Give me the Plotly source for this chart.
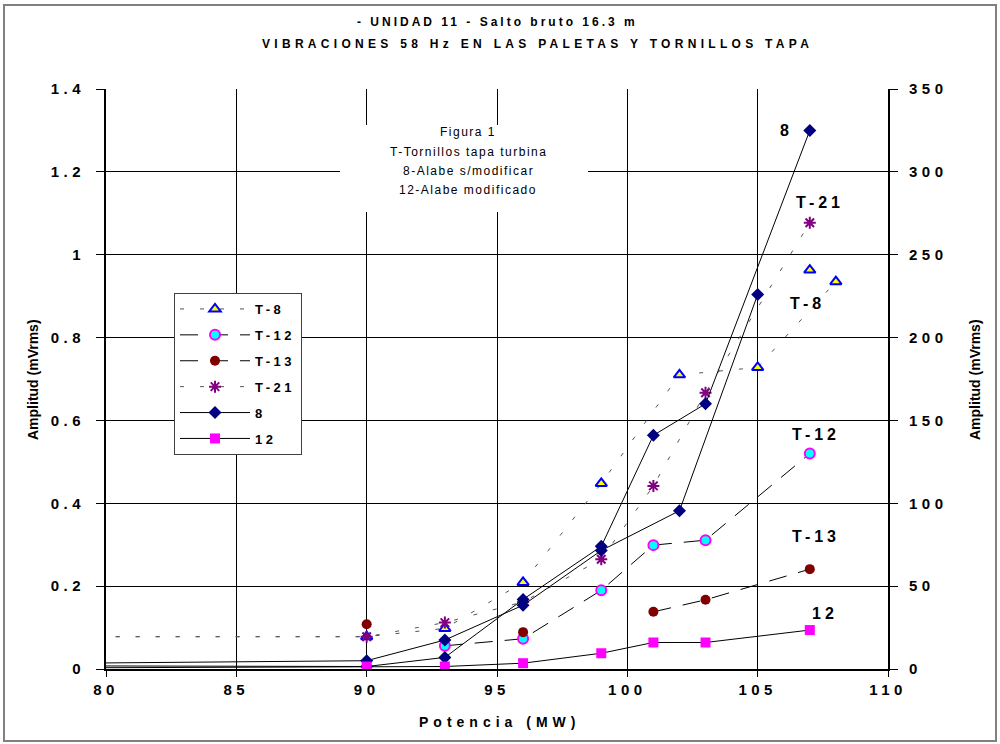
import plotly.graph_objects as go

# ---------------- data ----------------
x_t8 = [75, 90, 93, 96, 99, 102, 105, 108, None, 107]
y_t8 = [0.078, 0.078, 0.098, 0.209, 0.448, 0.710, 0.728, 0.935, None, 0.963]

x_t12 = [93, 96, 99, 101, 103, 107]
y_t12 = [0.056, 0.073, 0.190, 0.299, 0.311, 0.520]

x_t13 = [90, None, 96, None, 101, 103, 107]
y_t13 = [0.108, None, 0.089, None, 0.138, 0.167, 0.241]

x_t21 = [75, 90, 93, 96, 99, 101, 103, 107]
y_t21 = [0.078, 0.078, 0.112, 0.162, 0.265, 0.442, 0.667, 1.077]

# blade series, right axis (mVrms)
x_8a = [75, 90, 93, 96, 99, 101, 103, 107]
y_8a = [2, 1.5, 7, 42, 74, 141, 160, 325]
x_8b = [75, 90, 93, 96, 99, 102, 105]
y_8b = [3, 5, 17.5, 38.5, 71.5, 95.5, 226]

x_12 = [75, 90, 93, 96, 99, 101, 103, 107]
y_12 = [0.5, 1.5, 1.5, 3.5, 9.5, 16, 16, 23.5]

x_ticks = [80, 85, 90, 95, 100, 105, 110]
x_ticktext = ["80", "85", "90", "95", "100", "105", "110"]
yl_ticks = [0, 0.2, 0.4, 0.6, 0.8, 1.0, 1.2, 1.4]
yl_ticktext = ["0", "0.2", "0.4", "0.6", "0.8", "1", "1.2", "1.4"]
yr_ticks = [0, 50, 100, 150, 200, 250, 300, 350]
yr_ticktext = ["0", "50", "100", "150", "200", "250", "300", "350"]

FONT = "Liberation Sans, Arial, sans-serif"


def sp(text, px):
    return f'<span style="letter-spacing:{px}px">{text}</span>'


fig = go.Figure()

dot = "4px,16px"
longdash = "18px,12px"

fig.add_trace(go.Scatter(
    x=x_t8, y=y_t8, name=sp("T-8", 3.5), mode="lines+markers", legendgroup="g1",
    line=dict(color="#555555", width=1, dash=dot),
    marker=dict(symbol="triangle-up", size=10, color="#FFFF00",
                line=dict(color="#0000FF", width=2)),
    connectgaps=False))
fig.add_trace(go.Scatter(
    x=x_t12, y=y_t12, name=sp("T-12", 3.5), mode="lines+markers", legendgroup="g2",
    line=dict(color="black", width=1, dash=longdash),
    marker=dict(symbol="circle", size=10, color="#00FFFF",
                line=dict(color="#FF00FF", width=2))))
fig.add_trace(go.Scatter(
    x=x_t13, y=y_t13, name=sp("T-13", 3.5), mode="lines+markers", legendgroup="g3",
    line=dict(color="black", width=1, dash=longdash),
    marker=dict(symbol="circle", size=10, color="#800000"),
    connectgaps=False))
fig.add_trace(go.Scatter(
    x=x_t21, y=y_t21, name=sp("T-21", 3.5), mode="lines+markers", legendgroup="g4",
    line=dict(color="#555555", width=1, dash=dot),
    marker=dict(symbol="asterisk-open", size=10, color="#800080",
                line=dict(color="#800080", width=2))))
fig.add_trace(go.Scatter(
    x=x_8a, y=y_8a, name=sp("8", 3.5), mode="lines+markers", yaxis="y2",
    legendgroup="g5",
    line=dict(color="black", width=1),
    marker=dict(symbol="diamond", size=10, color="#000080")))
fig.add_trace(go.Scatter(
    x=x_8b, y=y_8b, name=sp("8", 3.5), mode="lines+markers", yaxis="y2",
    legendgroup="g5", showlegend=False,
    line=dict(color="black", width=1),
    marker=dict(symbol="diamond", size=10, color="#000080")))
fig.add_trace(go.Scatter(
    x=x_12, y=y_12, name=sp("12", 3.5), mode="lines+markers", yaxis="y2",
    legendgroup="g6",
    line=dict(color="black", width=1),
    marker=dict(symbol="square", size=10, color="#FF00FF")))

L, R, T, B = 106, 112, 89, 75
W, H = 1000, 744
pw, ph = W - L - R, H - T - B


def px2paper(px, py):
    return (px - L) / pw, (H - B - py) / ph


annotations = []
# titles
for txt, cx, cy, spc in [("- UNIDAD 11 - Salto bruto 16.3 m", 497, 22, 3),
                         ("VIBRACIONES 58 Hz EN LAS PALETAS Y TORNILLOS TAPA", 537, 44, 4.3)]:
    ax_, ay_ = px2paper(cx, cy)
    annotations.append(dict(text=sp(txt, spc), x=ax_, y=ay_, xref="paper", yref="paper",
                            showarrow=False, xanchor="center", yanchor="middle",
                            font=dict(family=FONT, size=12, color="black", weight="bold")))
# axis titles
ax_, ay_ = px2paper(33, 380)
annotations.append(dict(text="Amplitud (mVrms)", x=ax_, y=ay_, xref="paper", yref="paper",
                        showarrow=False, textangle=-90, xanchor="center", yanchor="middle",
                        font=dict(family=FONT, size=14, color="black", weight="bold")))
ax_, ay_ = px2paper(975, 380)
annotations.append(dict(text="Amplitud (mVrms)", x=ax_, y=ay_, xref="paper", yref="paper",
                        showarrow=False, textangle=-90, xanchor="center", yanchor="middle",
                        font=dict(family=FONT, size=14, color="black", weight="bold")))
ax_, ay_ = px2paper(499, 722)
annotations.append(dict(text=sp("Potencia (MW)", 5), x=ax_, y=ay_, xref="paper", yref="paper",
                        showarrow=False, xanchor="center", yanchor="middle",
                        font=dict(family=FONT, size=14, color="black", weight="bold")))
# text box
box_lines = ["Figura 1", "T-Tornillos tapa turbina", "8-Alabe s/modificar", "12-Alabe modificado"]
for txt, yv in zip(box_lines, [1.296, 1.248, 1.202, 1.156]):
    annotations.append(dict(text=sp(txt, 1.5), x=93.9, y=yv, xref="x", yref="y",
                            showarrow=False, xanchor="center", yanchor="middle",
                            font=dict(family=FONT, size=12, color="black")))
# series labels
for txt, xv, yv in [("8", 106.09, 1.301), ("T-21", 107.39, 1.127), ("T-8", 106.93, 0.883),
                    ("T-12", 107.24, 0.567), ("T-13", 107.24, 0.321), ("12", 107.58, 0.133)]:
    annotations.append(dict(text=sp(txt, 4), x=xv, y=yv, xref="x", yref="y",
                            showarrow=False, xanchor="center", yanchor="middle",
                            font=dict(family=FONT, size=16, color="black", weight="bold")))

shapes = [
    dict(type="rect", xref="x", yref="y", x0=88.98, x1=98.49, y0=1.103, y1=1.313,
         fillcolor="white", line=dict(width=0), layer="between"),
]
fx0, fy0 = px2paper(4, 741)
fx1, fy1 = px2paper(996, 5)
shapes.append(dict(type="rect", xref="paper", yref="paper", x0=fx0, x1=fx1, y0=fy0, y1=fy1,
                   line=dict(color="#808080", width=2), fillcolor="rgba(0,0,0,0)"))

tickfont = dict(family=FONT, size=15, color="black", weight="bold")

lx, ly = px2paper(174, 293)
fig.update_layout(
    width=W, height=H,
    margin=dict(l=L, r=R, t=T, b=B, autoexpand=False),
    paper_bgcolor="white", plot_bgcolor="white",
    showlegend=True,
    legend=dict(x=lx, y=ly, xanchor="left", yanchor="top",
                bgcolor="white", bordercolor="#404040", borderwidth=1,
                font=dict(family=FONT, size=13, color="black", weight="bold"),
                itemwidth=70, traceorder="grouped", tracegroupgap=6),
    xaxis=dict(range=[80, 110], tickmode="array", tickvals=x_ticks,
               ticktext=[sp(t, 4.5) for t in x_ticktext],
               showgrid=True, gridcolor="black", gridwidth=1, zeroline=False,
               showline=True, linecolor="black", linewidth=2,
               ticks="outside", ticklen=6, tickcolor="black",
               tickfont=tickfont, automargin=False),
    yaxis=dict(range=[0, 1.4], tickmode="array", tickvals=yl_ticks,
               ticktext=[sp(t, 4.5) for t in yl_ticktext],
               showgrid=True, gridcolor="black", gridwidth=1, zeroline=False,
               showline=True, linecolor="black", linewidth=2,
               ticks="outside", ticklen=8, tickcolor="black",
               ticklabelstandoff=8,
               tickfont=tickfont, automargin=False),
    yaxis2=dict(range=[0, 350], tickmode="array", tickvals=yr_ticks,
                ticktext=[sp(t, 4.5) for t in yr_ticktext],
                overlaying="y", side="right", showgrid=False, zeroline=False,
                showline=True, linecolor="black", linewidth=2,
                ticks="outside", ticklen=8, tickcolor="black",
                ticklabelstandoff=8,
                tickfont=tickfont, automargin=False),
    annotations=annotations,
    shapes=shapes,
)

fig.write_html("out.html", config={"displayModeBar": False},
               post_script="document.body.style.margin='0px';")
